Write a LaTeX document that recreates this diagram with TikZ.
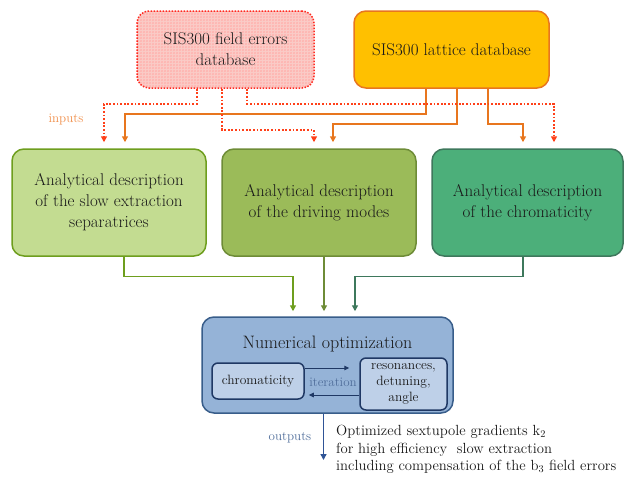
\documentclass[tikz,border=0pt]{standalone}
\usepackage{tikz}
\usetikzlibrary{patterns,arrows.meta}

\definecolor{TextCol}{RGB}{25,25,25}
\definecolor{ErrFill}{RGB}{250,205,200}
\definecolor{ErrLine}{RGB}{255,40,30}
\definecolor{LatFill}{RGB}{255,192,0}
\definecolor{LatLine}{RGB}{232,118,30}
\definecolor{InArrow}{RGB}{255,64,25}
\definecolor{InLabel}{RGB}{240,140,70}
\definecolor{SepFill}{RGB}{195,220,145}
\definecolor{SepLine}{RGB}{110,158,30}
\definecolor{DrvFill}{RGB}{155,187,89}
\definecolor{DrvLine}{RGB}{110,140,55}
\definecolor{ChrFill}{RGB}{76,175,122}
\definecolor{ChrLine}{RGB}{62,120,92}
\definecolor{OptFill}{RGB}{149,179,215}
\definecolor{OptLine}{RGB}{56,93,138}
\definecolor{SubFill}{RGB}{190,208,232}
\definecolor{SubLine}{RGB}{31,56,100}
\definecolor{OutLine}{RGB}{47,84,150}
\definecolor{OutLabel}{RGB}{79,109,154}

\begin{document}
\begin{tikzpicture}[
    x=1pt,y=-1pt,
    Box/.style={rounded corners=12pt,line width=1.5pt,align=center,text=TextCol,inner sep=2pt,font=\fontsize{17}{21}\selectfont},
    ErrBox/.style={Box,draw=ErrLine,dash pattern=on 1.5pt off 1.5pt,preaction={fill=ErrFill},pattern=crosshatch,pattern color=ErrLine!35},
    LatBox/.style={Box,draw=LatLine,fill=LatFill},
    Green/.style={Box,minimum width=#1,minimum height=107pt},
    SubBox/.style={rounded corners=6pt,line width=1.5pt,draw=SubLine,fill=SubFill,align=center,text=TextCol,inner sep=1pt,font=\fontsize{13.5}{16}\selectfont},
    Tip/.style={-{Triangle[length=6pt,width=6pt]}},
    Input/.style={Tip,InArrow,line width=1.8pt,dash pattern=on 1.8pt off 1.8pt},
    Lattice/.style={Tip,LatLine,line width=1.8pt},
    Feed/.style={Tip,line width=1.4pt},
    Iter/.style={-{Triangle[length=5pt,width=4.5pt]},SubLine,line width=1pt},
    Small/.style={font=\fontsize{13}{15}\selectfont},
    ]

    \useasboundingbox (0,0) rectangle (625,479);

    \node[ErrBox,minimum width=177pt,minimum height=77pt] (errdb) at (225.5,49.5) {SIS300 field errors\\database};
    \node[LatBox,minimum width=195pt,minimum height=77pt] (latdb) at (451.5,49.5) {SIS300 lattice database};

    \node[Green=194pt,draw=SepLine,fill=SepFill] (sep) at (109,202.5) {Analytical description\\of the slow extraction\\separatrices};
    \node[Green=194pt,draw=DrvLine,fill=DrvFill] (drive) at (319,202.5) {Analytical description\\of the driving modes};
    \node[Green=191pt,draw=ChrLine,fill=ChrFill] (chrom) at (527.5,202.5) {Analytical description\\of the chromaticity};

    \node[Box,draw=OptLine,fill=OptFill,minimum width=251pt,minimum height=96pt] (numopt) at (327.5,365) {};
    \node[text=TextCol,font=\fontsize{18}{21}\selectfont] (numtitle) at (327.5,344) {Numerical optimization};
    \node[SubBox,minimum width=92pt,minimum height=36pt] (chromin) at (258,381) {chromaticity};
    \node[SubBox,minimum width=87pt,minimum height=52pt] (reson) at (403.5,384) {resonances,\\detuning,\\angle};
    \node[Small,text=OutLabel] (iter) at (333,382) {iteration};

    \node[Small,text=InLabel] (inlbl) at (66,120) {inputs};
    \node[Small,text=OutLabel] (outlbl) at (290,438) {outputs};
    \node[anchor=north west,align=left,text=TextCol,inner sep=2pt,font=\fontsize{14.7}{17.5}\selectfont] (outtxt) at (334,423)
      {Optimized sextupole gradients k\textsubscript{2}\\for high efficiency\ \ slow extraction\\including compensation of the b\textsubscript{3} field errors};
    \coordinate (outend) at (323.5,460);

    \draw[Lattice] ([xshift=-25.5pt]latdb.south) -- ++(0,25) -| ([xshift=16pt,yshift=6pt]sep.north);
    \draw[Lattice] ([xshift=5.5pt]latdb.south) -- ++(0,35) -| ([xshift=14pt,yshift=6pt]drive.north);
    \draw[Lattice] ([xshift=36.5pt]latdb.south) -- ++(0,35) -| ([xshift=-4.5pt,yshift=6pt]chrom.north);

    \draw[Input] ([xshift=-28.5pt]errdb.south) -- ++(0,15) -| ([xshift=-5pt,yshift=6pt]sep.north);
    \draw[Input] ([xshift=-3.5pt]errdb.south) -- ++(0,41) -| ([xshift=-5pt,yshift=6pt]drive.north);
    \draw[Input] ([xshift=21.5pt]errdb.south) -- ++(0,15) -| ([xshift=26.5pt,yshift=6pt]chrom.north);

    \draw[Feed,SepLine] ([xshift=15pt]sep.south) -- ++(0,20) -| ([xshift=-34.5pt,yshift=5pt]numopt.north);
    \draw[Feed,DrvLine] ([xshift=5pt]drive.south) -- ([xshift=-3.5pt,yshift=5pt]numopt.north);
    \draw[Feed,ChrLine] ([xshift=-4.5pt]chrom.south) -- ++(0,20) -| ([xshift=27.5pt,yshift=5pt]numopt.north);

    \draw[Iter,shorten >=10pt] ([yshift=13pt]chromin.east) -- ([yshift=13pt]chromin.east -| reson.west);
    \draw[Iter,shorten >=4pt] ([yshift=-11pt]reson.west) -- ([yshift=-11pt]reson.west -| chromin.east);

    \draw[Feed,OutLine] ([xshift=-4pt]numopt.south) -- (outend);
  \end{tikzpicture}
\end{document}
